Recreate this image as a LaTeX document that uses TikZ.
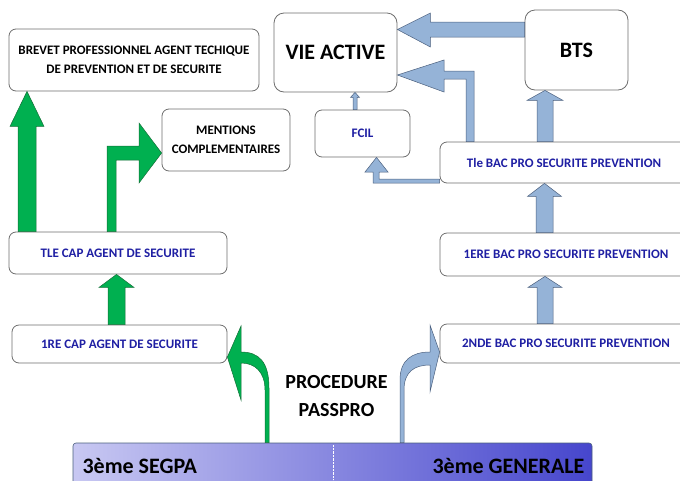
\documentclass[tikz,border=0pt]{standalone}
\usepackage{fontspec}
\setmainfont{Carlito}
\usetikzlibrary{calc,positioning}

\definecolor{gfill}{RGB}{0,176,80}
\definecolor{gline}{RGB}{20,110,55}
\definecolor{bfill}{RGB}{149,179,215}
\definecolor{bline}{RGB}{75,95,125}
\definecolor{txtblue}{RGB}{31,31,163}
\definecolor{boxline}{RGB}{110,110,110}
\definecolor{barlight}{RGB}{200,200,242}
\definecolor{bardark}{RGB}{70,70,205}

% straight block arrow pointing up: style, x, lower node, upper node, shaft half, head half, head length
\newcommand{\blockup}[7]{%
  \filldraw[#1] let \p1=(#3.north), \p2=(#4.south) in
    ({#2-#5},\y1) -- ({#2-#5},{\y2-#7}) -- ({#2-#6},{\y2-#7}) -- (#2,\y2)
    -- ({#2+#6},{\y2-#7}) -- ({#2+#5},{\y2-#7}) -- ({#2+#5},\y1) -- cycle;}

\begin{document}
\begin{tikzpicture}[x=1pt,y=-1pt,
    box/.style={draw=boxline,line width=0.8pt,rounded corners=7pt,fill=white,align=center,
      inner sep=0pt,font=\fontsize{13}{19}\selectfont\bfseries},
    bluebox/.style={box,text=txtblue},
    bigbox/.style={box,rounded corners=10pt,font=\fontsize{22}{26}\selectfont\bfseries},
    garrow/.style={fill=gfill,draw=gline,line width=0.5pt},
    barrow/.style={fill=bfill,draw=bline,line width=0.5pt},
    bigtxt/.style={font=\fontsize{20}{24}\selectfont\bfseries}]
  \clip (0,0) rectangle (680,480);

  % boxes
  \node[box,minimum width=250,minimum height=62] (brevet) at (134,60)
    {BREVET PROFESSIONNEL AGENT TECHIQUE\\DE PREVENTION ET DE SECURITE};
  \node[box,minimum width=128,minimum height=62] (mentions) at (226,140)
    {MENTIONS\\COMPLEMENTAIRES};
  \node[bigbox,minimum width=123,minimum height=79] (vie) at (335.5,52.5) {VIE ACTIVE};
  \node[bigbox,minimum width=103,minimum height=80] (bts) at (576.5,50) {BTS};
  \node[bluebox,minimum width=95,minimum height=47] (fcil) at (362.5,133.5) {FCIL};
  \node[bluebox,minimum width=248,minimum height=41] (tlebac) at (564,162.5)
    {Tle BAC PRO SECURITE PREVENTION};
  \node[bluebox,minimum width=252,minimum height=43] (premierebac) at (566,254.5)
    {1ERE BAC PRO SECURITE PREVENTION};
  \node[bluebox,minimum width=252,minimum height=39] (secondebac) at (566,343.5)
    {2NDE BAC PRO SECURITE PREVENTION};
  \node[bluebox,minimum width=218,minimum height=42] (tlecap) at (118,253)
    {TLE CAP AGENT DE SECURITE};
  \node[bluebox,minimum width=215,minimum height=38] (premierecap) at (119.5,344)
    {1RE CAP AGENT DE SECURITE};

  % bottom bar
  \node[draw=bline,line width=0.6pt,rounded corners=3pt,left color=barlight,right color=bardark,
    minimum width=519,minimum height=54,inner sep=0pt] (bar) at (332.5,470) {};
  \draw[white,densely dotted,line width=0.4pt] (333,445) -- (333,480);
  \node[bigtxt,font=\fontsize{22}{26}\selectfont\bfseries,anchor=west] (segpa) at (79,466) {3ème SEGPA};
  \node[bigtxt,font=\fontsize{22}{26}\selectfont\bfseries,anchor=east] (generale) at (588,466) {3ème GENERALE};

  \node[bigtxt] (procedure) at (336.5,382) {PROCEDURE};
  \node[bigtxt] (passpro) at (336.5,410) {PASSPRO};

  % green arrows
  \blockup{garrow}{27}{tlecap}{brevet}{9}{17}{35}
  \blockup{garrow}{116.5}{premierecap}{tlecap}{8.5}{17.5}{13}
  \filldraw[garrow] let \p1=(tlecap.north), \p2=(mentions.west) in
    (107,\y1) -- (107,146) -- (139,146) -- (139,123) -- (\x2,153) -- (139,183)
    -- (139,160) -- (116,160) -- (116,\y1) -- cycle;
  \filldraw[garrow] let \p1=(bar.north), \p2=(premierecap.east) in
    (269,\y1) -- (269,388) .. controls (269,362) and (259,352) .. (241,352)
    -- (241,326) -- (\x2,357) -- (241,400) -- (241,363)
    .. controls (255,363) and (265,372) .. (265,390) -- (265,\y1) -- cycle;

  % blue arrows
  \blockup{barrow}{545}{secondebac}{premierebac}{8}{17}{11}
  \blockup{barrow}{544.5}{premierebac}{tlebac}{8.5}{17}{13}
  \blockup{barrow}{545}{tlebac}{bts}{8}{18}{10}
  \blockup{barrow}{355}{fcil}{vie}{2}{4.5}{5}
  \filldraw[barrow] let \p1=(bts.west), \p2=(vie.east) in
    (\x1,22) -- ({\x2+33},22) -- ({\x2+33},13) -- (\x2,29.5) -- ({\x2+33},47)
    -- ({\x2+33},37) -- (\x1,37) -- cycle;
  \filldraw[barrow] let \p1=(tlebac.north), \p2=(vie.east) in
    (466,\y1) -- (466,79) -- (444,79) -- (444,92) -- (\x2,75) -- (444,60)
    -- (444,71) -- (474,71) -- (474,\y1) -- cycle;
  \filldraw[barrow] let \p1=(tlebac.west), \p2=(fcil.south) in
    (\x1,179) -- (379,179) -- (379,172) -- (388,172) -- (376.5,\y2) -- (365,172)
    -- (373,172) -- (373,183) -- (\x1,183) -- cycle;
  \filldraw[barrow] let \p1=(bar.north), \p2=(secondebac.west) in
    (400,\y1) -- (400,380) .. controls (400,360) and (412,352) .. (430,352)
    -- (430,325) -- (\x2,352) -- (430,392) -- (430,365)
    .. controls (414,365) and (404,372) .. (404,390) -- (404,\y1) -- cycle;
\end{tikzpicture}
\end{document}
